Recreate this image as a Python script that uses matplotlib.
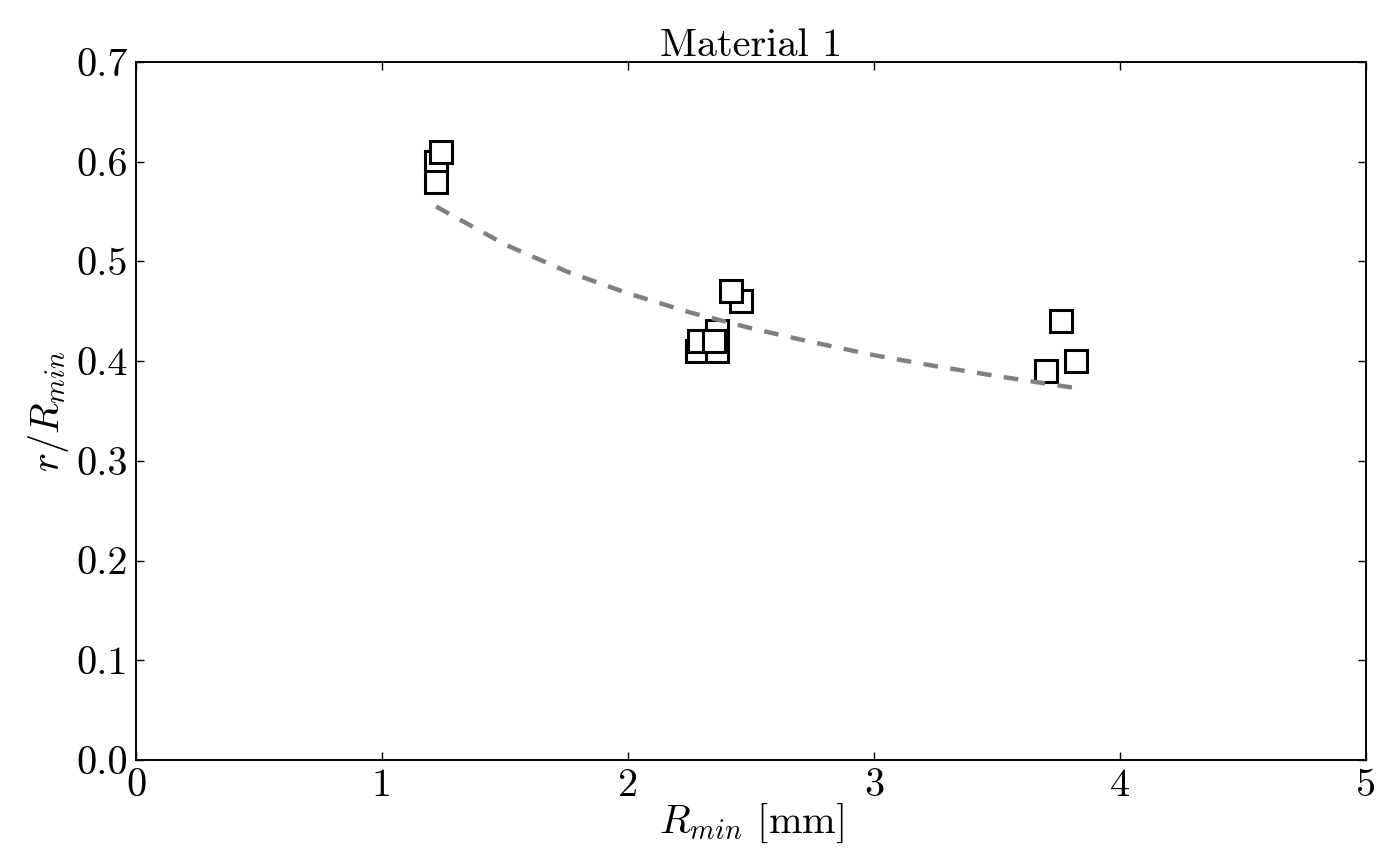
import numpy as np
import matplotlib.pyplot as plt

plt.rcParams['font.family'] = 'serif'
plt.rcParams['font.serif'] = ['cmr10', 'DejaVu Serif']
plt.rcParams['mathtext.fontset'] = 'cm'
plt.rcParams['axes.unicode_minus'] = False

# measured points (R_min in mm, r/R_min)
r_min = np.array([1.22, 1.22, 1.24, 2.36, 2.28, 2.36, 2.29, 2.35, 2.46, 2.42, 3.70, 3.76, 3.82])
ratio = np.array([0.60, 0.58, 0.61, 0.43, 0.41, 0.41, 0.42, 0.42, 0.46, 0.47, 0.39, 0.44, 0.40])

# dashed trend curve
curve_x = [1.22, 1.5, 1.75, 2.0, 2.25, 2.5, 2.75, 3.0, 3.25, 3.5, 3.82]
curve_y = [0.555, 0.517, 0.490, 0.468, 0.449, 0.433, 0.419, 0.406, 0.395, 0.385, 0.373]

xticks = [0, 1, 2, 3, 4, 5]
yticks = [0.0, 0.1, 0.2, 0.3, 0.4, 0.5, 0.6, 0.7]

fig = plt.figure(figsize=(13.91, 8.65), dpi=100)
ax = fig.add_axes([0.0978, 0.1214, 0.8842, 0.8069])

ax.plot(r_min, ratio, 's', ms=16, mew=2.2, mfc='white', mec='black', ls='none')
ax.plot(curve_x, curve_y, '--', color='gray', lw=3.2, dashes=(3.3, 2.8))

ax.set_xlim(0, 5)
ax.set_ylim(0, 0.7)
ax.set_xticks(xticks)
ax.set_yticks(yticks)
ax.set_xticklabels([str(t) for t in xticks])
ax.set_yticklabels(['%.1f' % t for t in yticks])
ax.tick_params(direction='in', length=6, width=1, top=True, right=True,
               labelsize=29, pad=6)
for s in ax.spines.values():
    s.set_linewidth(1.4)

ax.set_title('Material 1', fontsize=29, pad=4)
ax.set_xlabel(r'$R_{min}$ [mm]', fontsize=29, labelpad=-2)
ax.set_ylabel(r'$r/R_{min}$', fontsize=29, labelpad=4)

fig.savefig('out.png', dpi=100)
